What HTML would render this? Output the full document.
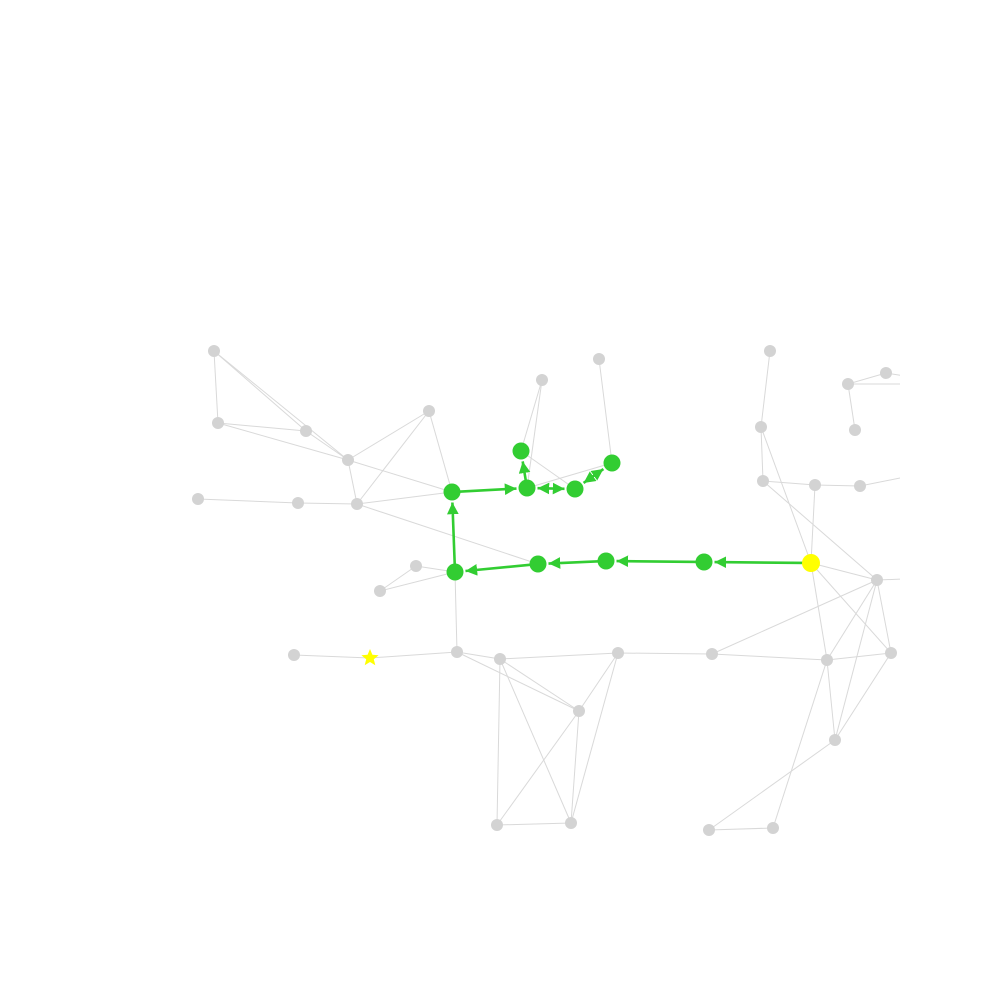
<!DOCTYPE html>
<html><head><meta charset="utf-8"><style>html,body{margin:0;background:#fff}svg{display:block}</style></head>
<body>
<svg id="g" width="1000" height="1000" viewBox="0 0 1000 1000">
<defs><clipPath id="c"><rect x="0" y="0" width="900" height="1000"/></clipPath>
<marker id="ah" viewBox="0 0 10 10" refX="10" refY="5" markerWidth="4.5" markerHeight="4.5" orient="auto-start-reverse"><path d="M0,0L10,5L0,10z" fill="#32cd32"/></marker></defs>
<g id="edges" clip-path="url(#c)"></g><g id="path"></g><g id="nodes" clip-path="url(#c)"></g>
</svg>
<script>
const nodeX=[214,218,306,348,429,198,298,357,416,380,294,457,500,618,579,497,571,542,599,770,761,763,815,860,848,886,855,877,891,827,712,835,709,773,521,527,575,612,452,455,538,606,704,811,905,905,905,905];
const nodeY=[351,423,431,460,411,499,503,504,566,591,655,652,659,653,711,825,823,380,359,351,427,481,485,486,384,373,430,580,653,660,654,740,830,828,451,488,489,463,492,572,564,561,562,563,376,384,477,579];
const grayEdges=[[0,1],[0,2],[0,3],[1,2],[1,3],[2,3],[3,4],[3,7],[3,38],[4,7],[4,38],[5,6],[6,7],[7,38],[7,40],[8,39],[9,8],[9,39],[39,11],[10,-1],[11,12],[11,14],[12,13],[12,14],[12,15],[12,16],[13,14],[13,16],[14,15],[14,16],[15,16],[13,30],[17,34],[17,35],[34,36],[35,37],[18,37],[19,20],[20,21],[20,43],[21,22],[21,27],[22,23],[23,46],[22,43],[24,25],[25,44],[24,45],[24,26],[43,27],[27,47],[43,28],[43,29],[27,30],[27,29],[27,31],[27,28],[30,29],[29,28],[28,31],[29,31],[29,33],[31,32],[32,33]];
const greenEdges=[[43,42,0],[42,41,0],[41,40,0],[40,39,0],[39,38,0],[38,35,0],[35,34,0],[35,36,1],[36,37,1]];
const starX=370, starY=658;
const NS='http://www.w3.org/2000/svg';
const E=document.getElementById('edges'),P=document.getElementById('path'),N=document.getElementById('nodes');
const greenSet=new Set([34,35,36,37,38,39,40,41,42]);
grayEdges.forEach(([a,b])=>{
 const l=document.createElementNS(NS,'line');
 
 
 const bx=b===-1?starX:nodeX[b], by=b===-1?starY:nodeY[b];
 l.setAttribute('x1',nodeX[a]);l.setAttribute('y1',nodeY[a]);l.setAttribute('x2',bx);l.setAttribute('y2',by);
 l.setAttribute('stroke','#d9d9d9');l.setAttribute('stroke-width','1');E.appendChild(l);
});
{const l=document.createElementNS(NS,'line');
 
 
 l.setAttribute('x1',starX);l.setAttribute('y1',starY);l.setAttribute('x2',nodeX[11]);l.setAttribute('y2',nodeY[11]);
 l.setAttribute('stroke','#d9d9d9');E.appendChild(l);}
function rad(i){return i===43?9:(greenSet.has(i)?8.5:6);}
greenEdges.forEach(([a,b,both])=>{
 const x1=nodeX[a],y1=nodeY[a],x2=nodeX[b],y2=nodeY[b];
 const d=Math.hypot(x2-x1,y2-y1),ux=(x2-x1)/d,uy=(y2-y1)/d;
 const r1=rad(a)+2,r2=rad(b)+2;
 const l=document.createElementNS(NS,'line');
 
 
 l.setAttribute('x1',x1+ux*(both?r1:rad(a)*0.5));l.setAttribute('y1',y1+uy*(both?r1:rad(a)*0.5));
 l.setAttribute('x2',x2-ux*r2);l.setAttribute('y2',y2-uy*r2);
 l.setAttribute('stroke','#32cd32');l.setAttribute('stroke-width','2.6');
 l.setAttribute('marker-end','url(#ah)');if(both)l.setAttribute('marker-start','url(#ah)');
 P.appendChild(l);
});
for(let i=0;i<44;i++){
 const c=document.createElementNS(NS,'circle');
 
 
 c.setAttribute('cx',nodeX[i]);c.setAttribute('cy',nodeY[i]);c.setAttribute('r',rad(i));
 c.setAttribute('fill',i===43?'#ffff00':(greenSet.has(i)?'#32cd32':'#d3d3d3'));N.appendChild(c);
}
const pts=[];for(let k=0;k<10;k++){const r=k%2?4:9,a=-Math.PI/2+k*Math.PI/5;pts.push((starX+r*Math.cos(a)).toFixed(1)+','+(starY+r*Math.sin(a)).toFixed(1));}
const s=document.createElementNS(NS,'polygon');


s.setAttribute('points',pts.join(' '));s.setAttribute('fill','#ffff00');N.appendChild(s);
</script>
</body></html>
